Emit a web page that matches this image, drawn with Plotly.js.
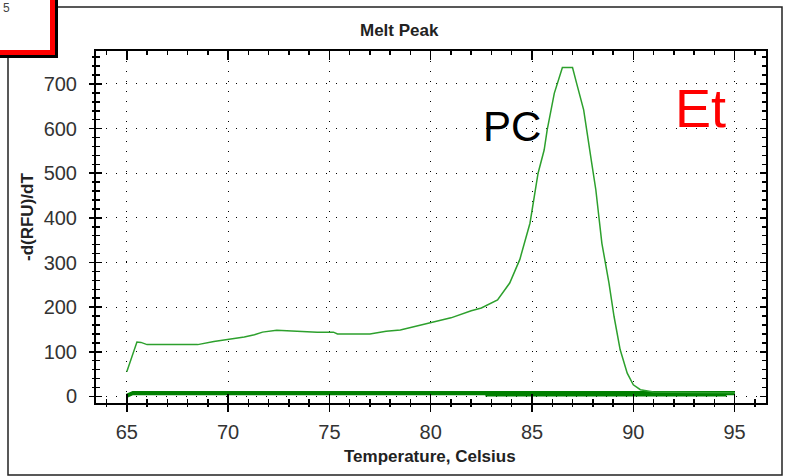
<!DOCTYPE html>
<html>
<head>
<meta charset="utf-8">
<script src="https://cdn.plot.ly/plotly-3.0.1.min.js"></script>
<style>html,body{margin:0;padding:0;background:#fff;}#chart{width:789px;height:476px;}</style>
</head>
<body>
<div id="chart"></div>
<script>
// ---- data ----
const chartTitle = "Melt Peak";
const xTitle = "Temperature, Celsius";
const yTitle = "-d(RFU)/dT";

// positive control melt curve
const pcTemp = [65.0, 65.25, 65.5, 65.7, 66.0, 67.0, 68.5, 69.3, 70.0, 70.8, 71.3, 71.7, 72.4, 73.2, 74.4, 75.2, 75.4, 77.0, 77.8, 78.5, 80.0, 81.0, 82.0, 82.5, 83.3, 83.9, 84.4, 84.9, 85.3, 85.6, 85.75, 86.1, 86.5, 87.0, 87.2, 87.55, 87.95, 88.15, 88.45, 88.8, 89.05, 89.35, 89.7, 90.0, 90.35, 91.0, 93.0, 95.0];
const pcValues = [55, 90, 122, 121, 116, 116, 116, 123, 127, 133, 138, 144, 148, 146, 144, 144, 140, 140, 146, 149, 165, 176, 192, 198, 216, 254, 307, 388, 500, 552, 597, 679, 737, 737, 702, 642, 522, 463, 343, 254, 179, 105, 52, 26, 15, 10, 9, 8];

// flat (negative) samples
const ntcTempA = [65.0, 65.3, 70, 75, 80, 85, 90, 95];
const ntcValuesA = [3, 9, 9, 9, 9, 9, 9, 9];
const ntcTempB = [65.0, 65.3, 70, 75, 80, 85, 90, 95];
const ntcValuesB = [0, 6, 6, 6, 6, 6, 6, 6];
const ntcTempC = [82.7, 85, 90, 94.6];
const ntcValuesC = [3, 3, 3, 3];

const xTick0 = 65, xDtick = 5;
const yTick0 = 0, yDtick = 100;
const labelPC = "PC";
const labelEt = "Et";
const labelPC_pos = [84.0, 604];
const labelEt_pos = [93.3, 646];
const cornerLabel = "5";

// ---- layout helpers (pixel -> paper) ----
const L = 96, R = 766, T = 51, B = 403;
const px = v => (v - L) / (R - L);
const py = v => (B - v) / (B - T);

const xRange = [63.48, 96.55];
const yRange = [-14.8, 773.9];

const ntcColor = 'rgb(0,128,0)';
const traces = [
  {x: ntcTempA, y: ntcValuesA, mode: 'lines', line: {color: ntcColor, width: 3}, hoverinfo: 'skip'},
  {x: ntcTempB, y: ntcValuesB, mode: 'lines', line: {color: ntcColor, width: 3}, hoverinfo: 'skip'},
  {x: ntcTempC, y: ntcValuesC, mode: 'lines', line: {color: ntcColor, width: 3}, hoverinfo: 'skip'},
  {x: pcTemp, y: pcValues, mode: 'lines', line: {color: 'rgb(45,160,45)', width: 1.5}, hoverinfo: 'skip'},
  {x: [], y: [], xaxis: 'x2', yaxis: 'y2', mode: 'lines', hoverinfo: 'skip'}
];

const tickFont = {family: 'Liberation Sans Narrow, Liberation Sans, Arial, sans-serif', size: 20, color: '#333'};
const boldFont = {family: 'Liberation Sans, Arial, sans-serif', size: 17, color: '#222', weight: 'bold'};

const layout = {
  width: 789, height: 476,
  margin: {l: L, r: 789 - R, t: T, b: 476 - B},
  paper_bgcolor: '#fff', plot_bgcolor: '#fff',
  showlegend: false,
  xaxis: {
    range: xRange, tickmode: 'linear', tick0: xTick0, dtick: xDtick,
    showgrid: true, gridcolor: '#000', griddash: '1px,9px', gridwidth: 1,
    zeroline: false, showline: true, linecolor: '#000', linewidth: 2, mirror: 'ticks',
    ticks: 'inside', ticklen: 9, tickwidth: 1.5, tickcolor: '#000',
    minor: {tick0: xTick0, dtick: 1, ticks: 'inside', ticklen: 4, tickwidth: 1.5, tickcolor: '#000', showgrid: false},
    showticklabels: false
  },
  yaxis: {
    range: yRange, tickmode: 'linear', tick0: yTick0, dtick: yDtick,
    showgrid: true, gridcolor: '#000', griddash: '1px,9px', gridwidth: 1,
    zeroline: false, showline: true, linecolor: '#000', linewidth: 2, mirror: 'ticks',
    ticks: 'inside', ticklen: 6, tickwidth: 1.5, tickcolor: '#000',
    minor: {tick0: yTick0, dtick: 20, ticks: 'inside', ticklen: 4, tickwidth: 1.5, tickcolor: '#000', showgrid: false},
    showticklabels: false
  },
  xaxis2: {
    overlaying: 'x', anchor: 'y', side: 'bottom',
    range: xRange, tickmode: 'linear', tick0: xTick0, dtick: xDtick,
    showgrid: false, zeroline: false, showline: false,
    ticks: 'outside', ticklen: 8, tickwidth: 1.5, tickcolor: '#000',
    minor: {tick0: xTick0, dtick: 1, ticks: 'outside', ticklen: 3, tickwidth: 1.5, tickcolor: '#000', showgrid: false},
    tickfont: tickFont, ticklabelstandoff: 3
  },
  yaxis2: {
    overlaying: 'y', anchor: 'x', side: 'left',
    range: yRange, tickmode: 'linear', tick0: yTick0, dtick: yDtick,
    showgrid: false, zeroline: false, showline: false,
    ticks: 'outside', ticklen: 6, tickwidth: 1.5, tickcolor: '#000',
    minor: {tick0: yTick0, dtick: 20, ticks: 'outside', ticklen: 3, tickwidth: 1.5, tickcolor: '#000', showgrid: false},
    tickfont: tickFont, ticklabelstandoff: 8
  },
  shapes: [
    // outer chart frame
    {type: 'rect', xref: 'paper', yref: 'paper', x0: px(8), x1: px(782), y0: py(475), y1: py(7), line: {color: '#222', width: 1.5}, fillcolor: 'rgba(0,0,0,0)'},
    // top-left inset box (shadow, red border, white face)
    {type: 'rect', xref: 'paper', yref: 'paper', x0: px(-10), x1: px(58), y0: py(58), y1: py(-10), line: {width: 0}, fillcolor: '#000'},
    {type: 'rect', xref: 'paper', yref: 'paper', x0: px(-10), x1: px(55), y0: py(55), y1: py(-10), line: {width: 0}, fillcolor: '#ff0000'},
    {type: 'rect', xref: 'paper', yref: 'paper', x0: px(-10), x1: px(50), y0: py(50), y1: py(-10), line: {width: 0}, fillcolor: '#fff'}
  ],
  annotations: [
    {text: chartTitle, xref: 'paper', yref: 'paper', x: px(399), y: py(31), showarrow: false, xanchor: 'center', yanchor: 'middle', font: boldFont},
    {text: xTitle, xref: 'paper', yref: 'paper', x: px(430), y: py(456), showarrow: false, xanchor: 'center', yanchor: 'middle', font: boldFont},
    {text: yTitle, xref: 'paper', yref: 'paper', x: px(27), y: py(217), textangle: -90, showarrow: false, xanchor: 'center', yanchor: 'middle', font: boldFont},
    {text: labelPC, x: labelPC_pos[0], y: labelPC_pos[1], xref: 'x', yref: 'y', showarrow: false, xanchor: 'center', yanchor: 'middle', font: {family: 'Liberation Sans, Arial, sans-serif', size: 42, color: '#000'}},
    {text: labelEt, x: labelEt_pos[0], y: labelEt_pos[1], xref: 'x', yref: 'y', showarrow: false, xanchor: 'center', yanchor: 'middle', font: {family: 'Liberation Sans, Arial, sans-serif', size: 54, color: '#ff0000'}},
    {text: cornerLabel, xref: 'paper', yref: 'paper', x: px(6), y: py(8), showarrow: false, xanchor: 'center', yanchor: 'middle', font: {family: 'Liberation Sans, Arial, sans-serif', size: 12, color: '#444'}}
  ]
};

Plotly.newPlot('chart', traces, layout, {staticPlot: true, displayModeBar: false});
</script>
</body>
</html>
